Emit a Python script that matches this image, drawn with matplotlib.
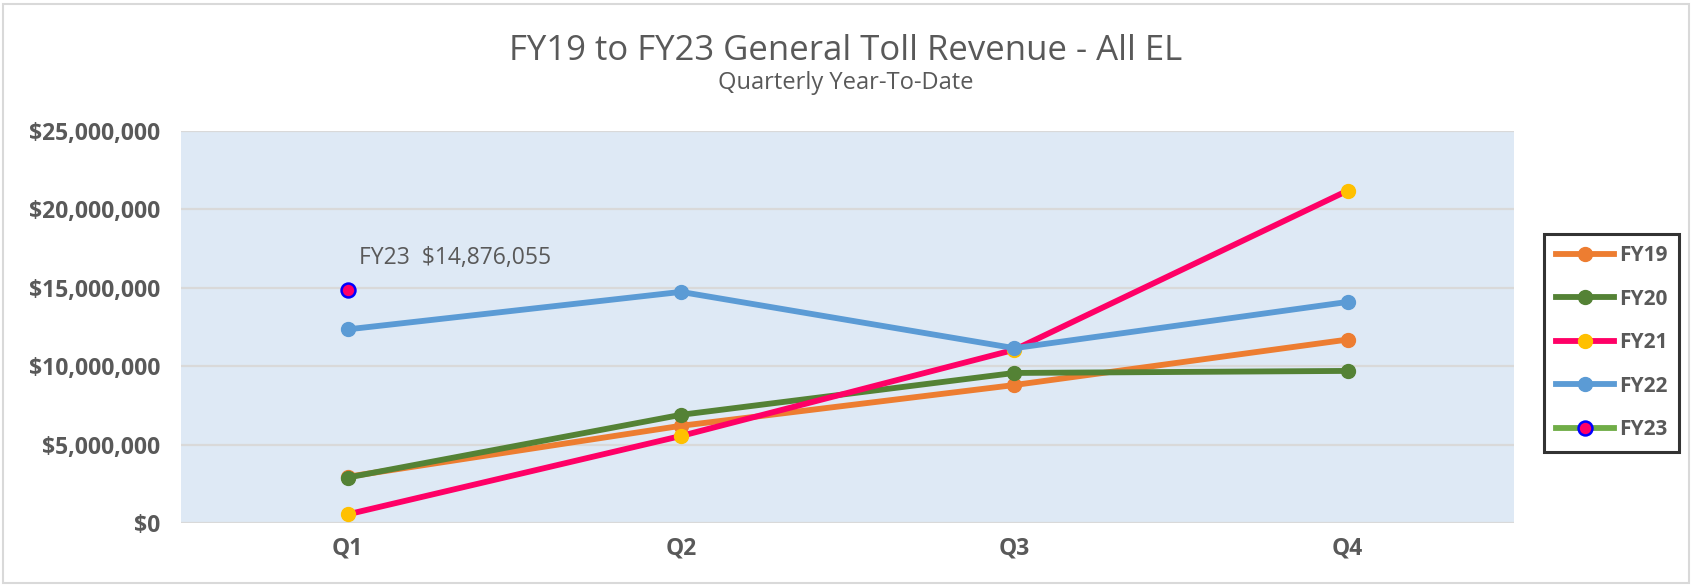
from matplotlib import pyplot as plt
from matplotlib.ticker import FuncFormatter
from matplotlib.patches import Rectangle
import numpy as np

quarters = ["Q1", "Q2", "Q3", "Q4"]
fy19 = [2950000, 6200000, 8800000, 11700000]
fy20 = [2900000, 6900000, 9570000, 9700000]
fy21 = [550000, 5550000, 11050000, 21200000]
fy22 = [12350000, 14740000, 11150000, 14100000]
fy23 = [14876055]

plt.rcParams["font.family"] = ["Open Sans", "DejaVu Sans"]

fig = plt.figure(figsize=(16.92, 5.85), dpi=100)
ax = fig.add_axes([0.107, 0.106, 0.788, 0.670])
ax.set_facecolor("#DEE9F5")

x = np.arange(len(quarters))
lw = 4.2
ms = 10
ax.plot(x, fy19, color="#ED7D31", lw=lw, marker="o", ms=ms, label="FY19", zorder=3)
ax.plot(x, fy20, color="#548235", lw=lw, marker="o", ms=ms, label="FY20", zorder=3)
ax.plot(x, fy21, color="#FF0066", lw=lw, marker="o", ms=ms, mfc="#FFC000", mec="#FFC000", label="FY21", zorder=3)
ax.plot(x, fy22, color="#5B9BD5", lw=lw, marker="o", ms=ms, label="FY22", zorder=4)
ax.plot(x[:len(fy23)], fy23, color="#70AD47", lw=lw, marker="o", ms=ms, mfc="#FF0066", mec="#0000FF",
        mew=1.8, label="FY23", zorder=5)

ax.annotate("FY23  ${:,}".format(fy23[0]), xy=(x[0], fy23[0]), xytext=(8, 14), textcoords="offset points",
            fontsize=16.5, color="#595959", ha="left", va="bottom")

ax.set_xlim(-0.5, 3.5)
ax.set_ylim(0, 25000000)
ax.set_yticks(np.arange(0, 25000001, 5000000))
ax.yaxis.set_major_formatter(FuncFormatter(lambda v, p: "${:,.0f}".format(v)))
ax.set_xticks(x)
ax.set_xticklabels(quarters)
ax.grid(axis="y", color="#D9D9D9", lw=1.6)
ax.set_axisbelow(True)
for s in ax.spines.values():
    s.set_visible(False)
ax.tick_params(length=0, colors="#595959", labelsize=16.5, pad=10)
ax.tick_params(axis="y", pad=15)
for t in ax.get_xticklabels() + ax.get_yticklabels():
    t.set_fontweight("bold")

fig.text(0.5, 0.913, "FY19 to FY23 General Toll Revenue - All EL", ha="center", va="center",
         fontsize=25, color="#595959")
fig.text(0.5, 0.858, "Quarterly Year-To-Date", ha="center", va="center", fontsize=17, color="#595959")

leg = ax.legend(loc="center left", bbox_to_anchor=(1.0225, 0.46), borderaxespad=0, frameon=True,
                fancybox=False, fontsize=15, handlelength=2.8, labelspacing=1.08, borderpad=0.55,
                handletextpad=0.25)
leg.get_frame().set_edgecolor("black")
leg.get_frame().set_linewidth(2.2)
for t in leg.get_texts():
    t.set_fontweight("bold")
    t.set_color("#595959")

fig.patches.append(Rectangle((0.002, 0.004), 0.996, 0.99, transform=fig.transFigure, fill=False,
                             edgecolor="#D9D9D9", lw=1.5))

fig.savefig("out.png", dpi=100)
